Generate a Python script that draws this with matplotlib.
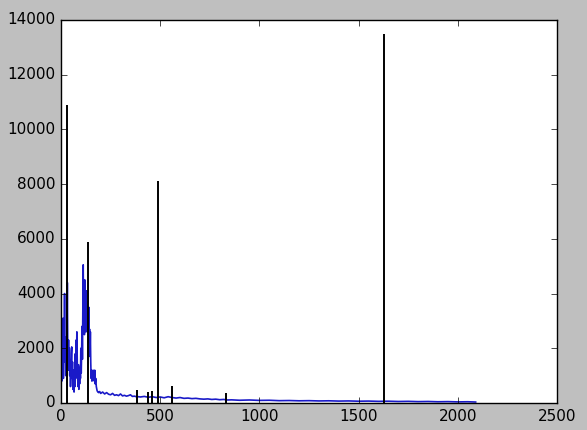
import matplotlib
matplotlib.use("Agg")
import matplotlib.pyplot as plt

plt.style.use('classic')

# Blue spectrum
spec_x = [0, 2, 4, 6, 8, 10, 12, 14, 16, 18, 20, 22, 24, 26, 28, 30, 32, 34, 36, 38,
          40, 42, 44, 46, 48, 50, 52, 54, 56, 58, 60, 62, 64, 66, 68, 70, 72, 74, 76, 78,
          80, 82, 84, 86, 88, 90, 92, 94, 96, 98, 100, 102, 104, 106, 108, 110, 112, 114,
          116, 118, 120, 122, 124, 126, 128, 130, 132, 134, 136, 138, 140, 142, 144, 146,
          148, 150, 152, 154, 156, 158, 160, 162, 164, 166, 168, 170, 172, 175, 178, 182,
          186, 190, 195, 200, 210, 220, 230, 240, 250, 260, 270, 280, 290, 300, 310, 320,
          330, 340, 350, 360, 370, 380, 390, 400, 420, 440, 460, 480, 500, 520, 540, 560,
          580, 600, 620, 640, 660, 680, 700, 720, 740, 760, 780, 800, 820, 840, 860, 900,
          950, 1000, 1050, 1100, 1150, 1200, 1250, 1300, 1350, 1400, 1450, 1500, 1550,
          1600, 1650, 1700, 1750, 1800, 1850, 1900, 1950, 2000, 2050, 2090]
spec_y = [0, 1500, 800, 3000, 1200, 3100, 900, 2500, 1800, 4000, 1500, 2400, 1000, 2200,
          1300, 2000, 4400, 2000, 1400, 2300, 1200, 2000, 1000, 1500, 600, 1200, 1800,
          2050, 900, 1500, 500, 1200, 700, 400, 1000, 600, 1800, 900, 2300, 1200, 2600,
          1500, 900, 600, 1400, 500, 1100, 700, 1300, 900, 2000, 1100, 1800, 2800, 1600,
          3500, 5050, 3000, 4200, 2500, 4500, 3200, 3900, 2600, 4100, 3000, 3600, 2800,
          3400, 2500, 3500, 2200, 2700, 1700, 2600, 1500, 900, 1200, 800, 1100, 1000,
          1200, 900, 1100, 800, 1200, 700, 900, 600, 450, 400, 380, 420, 350, 400, 330,
          380, 320, 300, 350, 280, 300, 270, 330, 260, 280, 250, 270, 300, 240, 250, 230,
          230, 220, 240, 210, 230, 200, 220, 190, 230, 200, 180, 200, 170, 180, 160, 170,
          150, 140, 150, 130, 140, 120, 130, 110, 115, 100, 110, 95, 100, 85, 90, 80, 85,
          75, 80, 70, 75, 65, 70, 60, 65, 55, 60, 50, 55, 45, 50, 40, 45, 35]

# Black peak markers
peak_x = [32, 134, 381, 437, 457, 489, 558, 832, 1628]
peak_h = [10900, 5880, 480, 420, 430, 8100, 630, 360, 13500]

xticks = [0, 500, 1000, 1500, 2000, 2500]
yticks = [0, 2000, 4000, 6000, 8000, 10000, 12000, 14000]

fig = plt.figure(figsize=(5.87, 4.30), dpi=100, facecolor='#bfbfbf')
ax = fig.add_axes([0.1039, 0.0628, 0.845, 0.8907])
ax.plot(spec_x, spec_y, color='#1a1ac8', linewidth=1.2)
ax.vlines(peak_x, 0, peak_h, colors='k', linewidth=1.4)
ax.set_xlim(0, 2500)
ax.set_ylim(0, 14000)
ax.set_xticks(xticks)
ax.set_yticks(yticks)
ax.tick_params(labelsize=11)

fig.savefig('out.png', dpi=100, facecolor=fig.get_facecolor())
